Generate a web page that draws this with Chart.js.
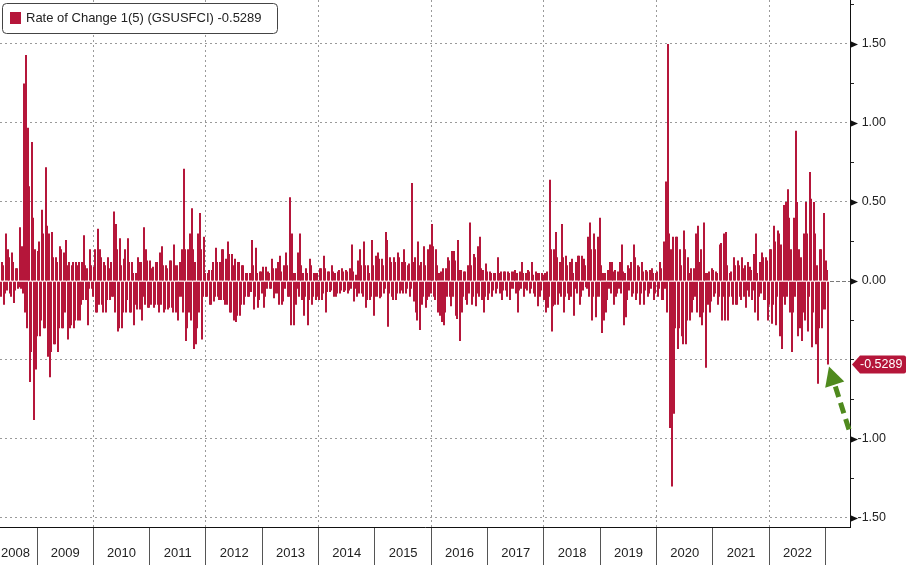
<!DOCTYPE html>
<html>
<head>
<meta charset="utf-8">
<script src="https://cdn.jsdelivr.net/npm/chart.js@4.4.1/dist/chart.umd.min.js"></script>
<style>
html,body{margin:0;padding:0;background:#ffffff;}
#wrap{width:907px;height:565px;position:relative;overflow:hidden;}
canvas{display:block;}
</style>
</head>
<body>
<div id="wrap"><canvas id="c" width="907" height="565"></canvas></div>
<script>
// ---------------- data ----------------
const seriesName = 'Rate of Change 1(5) (GSUSFCI)';
const yearLabels = ['2008','2009','2010','2011','2012','2013','2014','2015','2016','2017','2018','2019','2020','2021','2022'];
const xRange = [2008.343, 2023.433];      // visible time window (decimal years)
const yRange = [-1.557, 1.778];
const sampleStepYears = (xRange[1] - xRange[0]) / 850;   // spacing between samples
const firstSampleYear = xRange[0] + sampleStepYears;      // date of first sample

const roc_2008_2010 = [
  -0.1,0.12, 0.1,-0.15, -0.08,0.3, -0.06,0.2, 0.15,-0.08, -0.1,0.18, 0.12,-0.14, -0.06,0.08, 0.08,-0.05, -0.04,0.34,
  -0.05,0.22, -0.08,1.25, -0.2,1.43, -0.3,0.97, 0.6,-0.64, -0.45,0.88, 0.4,-0.88, 0.2,-0.56, -0.35,0.19, 0.25,-0.35,
  -0.25,0.45, 0.3,-0.3, -0.3,0.72, 0.35,-0.48, 0.3,-0.61, -0.45,0.31, 0.15,-0.4, -0.4,0.15, 0.12,-0.45, -0.3,0.22,
  0.2,-0.3, -0.3,0.18, -0.2,0.26, 0.1,-0.37, 0.12,-0.3, -0.28,0.1, 0.12,-0.3, -0.25,0.12, 0.1,-0.25, 0.12,-0.25,
  -0.15,0.12, -0.12,0.29, 0.1,-0.12, 0.08,-0.28, -0.05,0.2, 0.1,-0.05, -0.1,0.09, 0.2,-0.2, -0.2,0.33, -0.15,0.2,
  0.15,-0.15, -0.2,0.12, 0.1,-0.2, -0.12,0.15, 0.08,-0.12, 0.12,-0.1, -0.1,0.44, -0.2,0.36, 0.2,-0.32, -0.3,0.27,
  0.1,-0.3, -0.2,0.14, 0.2,-0.2, -0.12,0.27, 0.12,-0.2, -0.2,0.12, 0.05,-0.28, -0.15,0.05, -0.18,0.15, 0.12,-0.18,
  0.12,-0.25, -0.1,0.34, -0.15,0.2, 0.13,-0.17, -0.17,0.13
];
const roc_2011_2012 = [
  -0.15,0.08, 0.09,-0.17, -0.15,0.12, 0.12,-0.15, -0.2,0.18, -0.15,0.22, 0.1,-0.2, -0.18,0.1, 0.08,-0.18, -0.17,0.13,
  0.13,-0.17, -0.2,0.23, 0.1,-0.2, 0.1,-0.25, -0.1,0.12, -0.1,0.2, -0.2,0.71, 0.2,-0.38, -0.3,0.2, -0.2,0.3,
  -0.25,0.46, 0.2,-0.43, 0.12,-0.4, -0.3,0.3, -0.2,0.43, 0.2,-0.37, -0.1,0.28, 0.05,-0.1, -0.1,0.05, 0.07,-0.15,
  -0.15,0.07, 0.12,-0.13, -0.1,0.21, 0.12,-0.1, -0.12,0.12, -0.12,0.2, 0.2,-0.12, -0.15,0.14, -0.15,0.25, 0.17,-0.2,
  -0.2,0.17, 0.1,-0.25, 0.14,-0.26, -0.22,0.12, 0.12,-0.22, -0.15,0.1, 0.1,-0.15, -0.1,0.05, 0.05,-0.1, -0.1,0.05
];
const roc_2012_2014 = [
  -0.07,0.26, 0.1,-0.18, -0.1,0.21, 0.05,-0.17, -0.12,0.06, 0.06,-0.08, 0.09,-0.17, -0.1,0.09, -0.05,0.06, 0.05,-0.05,
  -0.05,0.14, 0.08,-0.11, -0.08,0.08, -0.08,0.12, -0.15,0.16, 0.06,-0.15, -0.13,0.1, -0.05,0.18, 0.1,-0.1, -0.1,0.53,
  -0.28,0.3, 0.05,-0.28, 0.05,-0.15, -0.05,0.18, -0.1,0.3, 0.1,-0.12, 0.05,-0.22, -0.1,0.08, 0.05,-0.28, -0.12,0.14,
  0.1,-0.15, -0.1,0.05, 0.05,-0.12, 0.05,-0.1, -0.12,0.08, 0.08,-0.12, -0.08,0.16, 0.08,-0.2, -0.07,0.06, 0.06,-0.07,
  -0.06,0.1, 0.06,-0.1, 0.05,-0.1, -0.08,0.06, 0.07,-0.08, -0.06,0.08, 0.06,-0.07, -0.06,0.07, 0.06,-0.08, -0.06,0.08
];
const roc_2014_2016 = [
  -0.05,0.23, 0.06,-0.13, -0.05,0.04, -0.1,0.13, -0.08,0.2, 0.1,-0.08, -0.1,0.25, 0.1,-0.17, -0.12,0.1, 0.05,-0.12,
  -0.1,0.26, 0.1,-0.22, -0.1,0.16, -0.1,0.18, 0.14,-0.11, -0.1,0.14, 0.1,-0.08, -0.05,0.31, 0.26,-0.29, -0.08,0.15,
  0.12,-0.1, -0.12,0.15, 0.12,-0.12, -0.08,0.18, 0.15,-0.08, -0.06,0.12, -0.08,0.2, 0.12,-0.08, -0.05,0.1, 0.11,-0.1,
  -0.05,0.62, 0.12,-0.13, 0.15,-0.2, -0.25,0.25, 0.1,-0.31, 0.12,-0.15, -0.1,0.22, 0.1,-0.17, -0.12,0.2, -0.1,0.23,
  -0.08,0.36, 0.22,-0.1, -0.12,0.2, 0.1,-0.2, 0.05,-0.22, 0.06,-0.26, 0.08,-0.28, -0.2,0.08, -0.1,0.15, 0.13,-0.1
];
const roc_2016_2018 = [
  -0.16,0.19, -0.1,0.19, 0.13,-0.22, -0.24,0.26, 0.07,-0.38, 0.07,-0.2, -0.1,0.06, 0.06,-0.12, -0.15,0.1, -0.08,0.37,
  0.1,-0.15, -0.1,0.17, 0.15,-0.16, -0.08,0.22, -0.1,0.28, 0.08,-0.12, 0.07,-0.2, -0.1,0.11, 0.06,-0.12, -0.08,0.06,
  0.05,-0.1, -0.06,0.05, 0.05,-0.08, -0.05,0.15, 0.05,-0.08, 0.06,-0.12, -0.06,0.06, 0.06,-0.06, -0.1,0.06, 0.05,-0.12,
  -0.05,0.06, -0.05,0.06, 0.07,-0.08, 0.05,-0.2, -0.06,0.06, -0.05,0.12, 0.05,-0.1, -0.05,0.05, -0.06,0.07, 0.06,-0.08,
  -0.05,0.12, 0.04,-0.08, -0.1,0.06, 0.05,-0.16, 0.05,-0.1, -0.06,0.05, 0.04,-0.12, 0.05,-0.2, 0.06,-0.17, -0.1,0.64
];
const roc_2018_2019 = [
  0.2,-0.32, -0.16,0.2, -0.15,0.31, 0.15,-0.15, -0.08,0.12, -0.1,0.36, 0.15,-0.2, -0.1,0.16, 0.1,-0.08, -0.12,0.12,
  -0.1,0.14, 0.05,-0.22, -0.05,0.12, -0.08,0.16, 0.16,-0.15, -0.1,0.16, -0.06,0.14, 0.1,-0.04, -0.05,0.28, -0.1,0.37,
  0.2,-0.25, -0.1,0.3, 0.2,-0.23, -0.1,0.28, -0.1,0.4, 0.1,-0.33, 0.05,-0.25, 0.05,-0.2, -0.12,0.07, -0.05,0.12,
  -0.08,0.12, 0.06,-0.15, 0.07,-0.1, -0.08,0.06, -0.05,0.12, -0.08,0.23, 0.06,-0.28, 0.05,-0.23, -0.12,0.1, -0.06,0.08,
  0.12,-0.1, -0.08,0.23, 0.15,-0.12, -0.08,0.1, 0.09,-0.15, -0.08,0.12, 0.06,-0.15, -0.06,0.07, 0.06,-0.1, -0.08,0.07
];
const roc_2019_2023 = [
  -0.05,0.08, 0.05,-0.12, -0.08,0.05, 0.06,-0.1, -0.05,0.12, 0.08,-0.12, -0.12,0.25, -0.05,0.63, -0.2,1.5, 0.3,-0.93,
  0.2,-1.3, 0.28,-0.84, -0.3,0.28, 0.28,-0.43, -0.3,0.2, 0.1,-0.35, -0.4,0.32, 0.2,-0.4, -0.25,0.15, 0.05,-0.25,
  0.08,-0.2, -0.12,0.08, -0.1,0.3, -0.2,0.35, 0.12,-0.23, 0.2,-0.28, -0.2,0.37, 0.05,-0.55, 0.05,-0.15, 0.06,-0.2,
  -0.13,0.08, 0.07,-0.1, -0.08,0.06, 0.05,-0.15, -0.1,0.23, 0.24,-0.25, -0.1,0.3, -0.25,0.31, 0.1,-0.25, -0.1,0.05,
  0.06,-0.1, -0.15,0.15, 0.1,-0.15, -0.15,0.13, 0.1,-0.1, -0.12,0.15, 0.08,-0.1, 0.1,-0.17, -0.06,0.12, -0.1,0.09,
  0.07,-0.12, -0.06,0.17, -0.2,0.3, 0.05,-0.25, -0.1,0.12, -0.08,0.18, 0.15,-0.12, -0.12,0.15, 0.13,-0.25, -0.15,0.2,
  0.2,-0.27, -0.15,0.35, 0.25,-0.28, -0.1,0.32, 0.3,-0.35, 0.23,-0.43, -0.1,0.48, -0.15,0.5, -0.1,0.58, 0.4,-0.2,
  0.2,-0.45, -0.2,0.4, -0.1,0.95, 0.5,-0.35, 0.2,-0.3, 0.15,-0.38, -0.2,0.3, -0.25,0.5, 0.3,-0.32, -0.1,0.69,
  0.52,-0.42, -0.2,0.5, 0.3,-0.4, 0.1,-0.65, -0.3,0.2, 0.2,-0.3, -0.18,0.43, -0.18,0.13, 0.07,-0.5289
];

const values = [].concat(roc_2008_2010, roc_2011_2012, roc_2012_2014, roc_2014_2016,
                         roc_2016_2018, roc_2018_2019, roc_2019_2023);
const points = values.map((v, i) => ({ x: firstSampleYear + i * sampleStepYears, y: v }));
const lastValue = values[values.length - 1];

// ---------------- style ----------------
const BAR = '#b5163a';
const GRID = '#9a9a9a';
const TEXT = '#222222';
const FONT = "'Liberation Sans', Arial, sans-serif";
const isMajor = v => Math.abs(v * 2 - Math.round(v * 2)) < 1e-6;
const hiddenByTag = v => Math.abs(v - lastValue) < 0.06;

Chart.defaults.font.family = FONT;

const decor = {
  id: 'decor',
  afterDatasetsDraw(chart) {
    const { ctx, scales: { x: xs, y: ys } } = chart;
    const y0 = Math.round(ys.getPixelForValue(0)) + 0.5;
    const lx = xs.getPixelForValue(points[points.length - 1].x);
    ctx.save();
    ctx.strokeStyle = 'rgba(255,225,230,0.7)';
    ctx.lineWidth = 1;
    ctx.beginPath(); ctx.moveTo(xs.left, y0); ctx.lineTo(lx + 1, y0); ctx.stroke();
    ctx.strokeStyle = '#7a7a7a';
    ctx.setLineDash([4, 2]);
    ctx.beginPath(); ctx.moveTo(lx + 2, y0); ctx.lineTo(xs.right, y0); ctx.stroke();
    ctx.restore();
  },
  afterDraw(chart) {
    const { ctx, scales: { x: xs, y: ys } } = chart;
    ctx.save();
    // major tick arrows on right axis
    ctx.fillStyle = '#111';
    ys.ticks.forEach(t => {
      if (!isMajor(t.value) || hiddenByTag(t.value)) return;
      const y = Math.round(ys.getPixelForValue(t.value)) + 0.5;
      ctx.beginPath();
      ctx.moveTo(ys.left, y - 3.5);
      ctx.lineTo(ys.left + 8, y);
      ctx.lineTo(ys.left, y + 3.5);
      ctx.closePath();
      ctx.fill();
    });
    // year labels
    ctx.font = '13px ' + FONT;
    ctx.fillStyle = TEXT;
    ctx.textBaseline = 'middle';
    ctx.textAlign = 'left';
    const ly = xs.top + 26;
    yearLabels.forEach(lbl => {
      const cx = xs.getPixelForValue(+lbl + 0.5);
      const w = ctx.measureText(lbl).width;
      const left = Math.max(cx - w / 2, xs.left + 1);
      ctx.fillText(lbl, left, ly);
    });
    // last value tag
    const ty = ys.getPixelForValue(lastValue);
    const tx = ys.left + 2;
    const W = chart.width;
    ctx.fillStyle = BAR;
    ctx.beginPath();
    ctx.moveTo(tx, ty);
    ctx.lineTo(tx + 8, ty - 9);
    ctx.lineTo(W - 3, ty - 9);
    ctx.quadraticCurveTo(W - 1, ty - 9, W - 1, ty - 7);
    ctx.lineTo(W - 1, ty + 7);
    ctx.quadraticCurveTo(W - 1, ty + 9, W - 3, ty + 9);
    ctx.lineTo(tx + 8, ty + 9);
    ctx.closePath();
    ctx.fill();
    ctx.fillStyle = '#ffffff';
    ctx.font = '12.5px ' + FONT;
    ctx.fillText(lastValue.toFixed(4), tx + 8, ty + 0.5);
    // legend box
    const bx = 2.5, by = 3.5, bw = 275, bh = 30, r = 4;
    ctx.fillStyle = '#ffffff';
    ctx.strokeStyle = '#444';
    ctx.lineWidth = 1;
    ctx.beginPath();
    ctx.moveTo(bx + r, by);
    ctx.lineTo(bx + bw - r, by); ctx.quadraticCurveTo(bx + bw, by, bx + bw, by + r);
    ctx.lineTo(bx + bw, by + bh - r); ctx.quadraticCurveTo(bx + bw, by + bh, bx + bw - r, by + bh);
    ctx.lineTo(bx + r, by + bh); ctx.quadraticCurveTo(bx, by + bh, bx, by + bh - r);
    ctx.lineTo(bx, by + r); ctx.quadraticCurveTo(bx, by, bx + r, by);
    ctx.closePath();
    ctx.fill(); ctx.stroke();
    ctx.fillStyle = BAR;
    ctx.fillRect(10, 12, 11, 12);
    ctx.fillStyle = TEXT;
    ctx.font = '13px ' + FONT;
    ctx.fillText(seriesName + ' ' + lastValue.toFixed(4), 26, 18.5);
    // green dashed arrow pointing at the last bar
    const lx = xs.getPixelForValue(points[points.length - 1].x);
    const tipX = lx + 1, tipY = ty + 2;
    const dx = 20, dy = 63, L = Math.hypot(dx, dy);
    const ux = dx / L, uy = dy / L, px = uy, py = -ux;
    const headLen = 19, headHalf = 10;
    const hx = tipX + ux * headLen, hy = tipY + uy * headLen;
    ctx.fillStyle = '#4f8a1e';
    ctx.beginPath();
    ctx.moveTo(tipX, tipY);
    ctx.lineTo(hx + px * headHalf, hy + py * headHalf);
    ctx.lineTo(hx - px * headHalf, hy - py * headHalf);
    ctx.closePath();
    ctx.fill();
    ctx.strokeStyle = '#4f8a1e';
    ctx.lineWidth = 5;
    ctx.setLineDash([11, 6]);
    ctx.beginPath();
    ctx.moveTo(hx + ux * 2, hy + uy * 2);
    ctx.lineTo(tipX + dx, tipY + dy);
    ctx.stroke();
    ctx.restore();
  }
};

new Chart(document.getElementById('c'), {
  type: 'bar',
  data: {
    datasets: [{
      label: seriesName,
      data: points,
      backgroundColor: BAR,
      borderWidth: 0,
      inflateAmount: 0,
      barPercentage: 2.0,
      categoryPercentage: 1.0,
      grouped: false
    }]
  },
  options: {
    responsive: false,
    animation: false,
    devicePixelRatio: 1,
    layout: { padding: { left: 0, top: 0, bottom: 0, right: 21 } },
    plugins: { legend: { display: false }, tooltip: { enabled: false } },
    scales: {
      x: {
        type: 'linear',
        position: 'bottom',
        min: xRange[0],
        max: xRange[1],
        offset: false,
        ticks: { stepSize: 1, includeBounds: false, autoSkip: false, display: false },
        grid: {
          offset: false,
          drawOnChartArea: true,
          drawTicks: true,
          tickLength: 38,
          tickColor: '#555',
          lineWidth: 1,
          color: ctx => (ctx.tick && Math.round(ctx.tick.value) % 2 === 0) ? GRID : 'rgba(0,0,0,0)'
        },
        border: { display: true, color: '#111', width: 1, dash: [2, 3] },
        afterFit: s => { s.height = 38; s.paddingLeft = 0; s.paddingRight = 0; }
      },
      y: {
        type: 'linear',
        position: 'right',
        min: yRange[0],
        max: yRange[1],
        ticks: {
          stepSize: 0.25,
          includeBounds: false,
          autoSkip: false,
          padding: 4,
          crossAlign: 'far',
          color: TEXT,
          font: { size: 12.5, family: FONT },
          callback: v => (isMajor(v) && !hiddenByTag(v)) ? Number(v).toFixed(2) : ''
        },
        grid: {
          drawTicks: true,
          tickLength: 4,
          tickColor: '#222',
          lineWidth: 1,
          color: ctx => (ctx.tick && isMajor(ctx.tick.value) && Math.abs(ctx.tick.value) > 1e-9) ? GRID : 'rgba(0,0,0,0)'
        },
        border: { display: true, color: '#111', width: 1, dash: [2, 3] },
        afterFit: s => { s.width = 36; s.paddingTop = 0; s.paddingBottom = 0; }
      }
    }
  },
  plugins: [decor]
});
</script>
</body>
</html>
